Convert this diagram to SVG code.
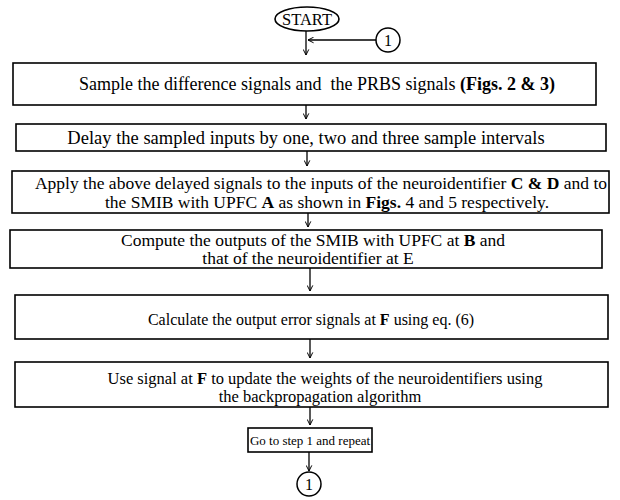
<svg xmlns="http://www.w3.org/2000/svg" width="620" height="500" viewBox="0 0 620 500">
<defs>
<marker id="arr" viewBox="0 0 10 10" refX="9" refY="5" markerWidth="7" markerHeight="7" orient="auto" markerUnits="userSpaceOnUse">
<path d="M1,1 L9,5 L1,9" fill="none" stroke="#000" stroke-width="1.4"/>
</marker>
<style>
.box{fill:#fff;stroke:#000;stroke-width:1.6}
.t{font-family:"Liberation Serif","Times New Roman",serif;font-size:17.5px;fill:#000;text-anchor:middle}
.b{font-weight:bold}
.c{stroke:#000;stroke-width:1.3;fill:none;marker-end:url(#arr)}
</style>
</defs>
<rect width="620" height="500" fill="#fff"/>
<g id="connectors">
<line class="c" x1="306" y1="31" x2="306" y2="55"/>
<line class="c" x1="376" y1="40" x2="308" y2="40"/>
<line class="c" x1="306" y1="105" x2="306" y2="119"/>
<line class="c" x1="307" y1="151" x2="307" y2="166"/>
<line class="c" x1="308" y1="213" x2="308" y2="227"/>
<line class="c" x1="310" y1="268" x2="310" y2="291"/>
<line class="c" x1="310" y1="339" x2="310" y2="358"/>
<line class="c" x1="310" y1="407" x2="310" y2="425"/>
<line class="c" x1="309" y1="452" x2="309" y2="471"/>
</g>
<g id="start">
<ellipse cx="307" cy="19" rx="32" ry="12" fill="#fff" stroke="#000" stroke-width="1.6"/>
<text class="t" x="307" y="25" style="font-size:16.5px">START</text>
</g>
<g id="conn1-top">
<circle cx="388" cy="40" r="12" fill="#fff" stroke="#000" stroke-width="1.5"/>
<text class="t" x="388" y="45.5" style="font-size:16px">1</text>
</g>
<g id="step1">
<rect class="box" x="13" y="63" width="583" height="42"/>
<text class="t" x="317" y="90" style="font-size:18px" xml:space="preserve">Sample the difference signals and  the PRBS signals <tspan class="b">(Figs. 2 &amp; 3)</tspan></text>
</g>
<g id="step2">
<rect class="box" x="16" y="124" width="590" height="27"/>
<text class="t" x="306" y="143.5" style="font-size:18.5px">Delay the sampled inputs by one, two and three sample intervals</text>
</g>
<g id="step3">
<rect class="box" x="12" y="171" width="597" height="42"/>
<text class="t" x="321" y="189">Apply the above delayed signals to the inputs of the neuroidentifier <tspan class="b">C &amp; D</tspan> and to</text>
<text class="t" x="327" y="207.5">the SMIB with UPFC <tspan class="b">A</tspan> as shown in <tspan class="b">Figs.</tspan> 4 and 5 respectively.</text>
</g>
<g id="step4">
<rect class="box" x="10" y="230" width="592" height="38"/>
<text class="t" x="313" y="246">Compute the outputs of the SMIB with UPFC at <tspan class="b">B</tspan> and</text>
<text class="t" x="308" y="264">that of the neuroidentifier at E</text>
</g>
<g id="step5">
<rect class="box" x="15" y="295" width="593" height="44"/>
<text class="t" x="311" y="325" style="font-size:16px">Calculate the output error signals at <tspan class="b">F</tspan> using eq. (6)</text>
</g>
<g id="step6">
<rect class="box" x="15" y="362" width="593" height="45"/>
<text class="t" x="325" y="384" style="font-size:16.5px">Use signal at <tspan class="b">F</tspan> to update the weights of the neuroidentifiers using</text>
<text class="t" x="320" y="402" style="font-size:16.5px">the backpropagation algorithm</text>
</g>
<g id="step7">
<rect class="box" x="248" y="428" width="124" height="24"/>
<text class="t" x="310" y="444.5" style="font-size:13px">Go to step 1 and repeat</text>
</g>
<g id="conn1-bottom">
<circle cx="309" cy="484" r="12" fill="#fff" stroke="#000" stroke-width="1.5"/>
<text class="t" x="309" y="489.5" style="font-size:16px">1</text>
</g>
</svg>
